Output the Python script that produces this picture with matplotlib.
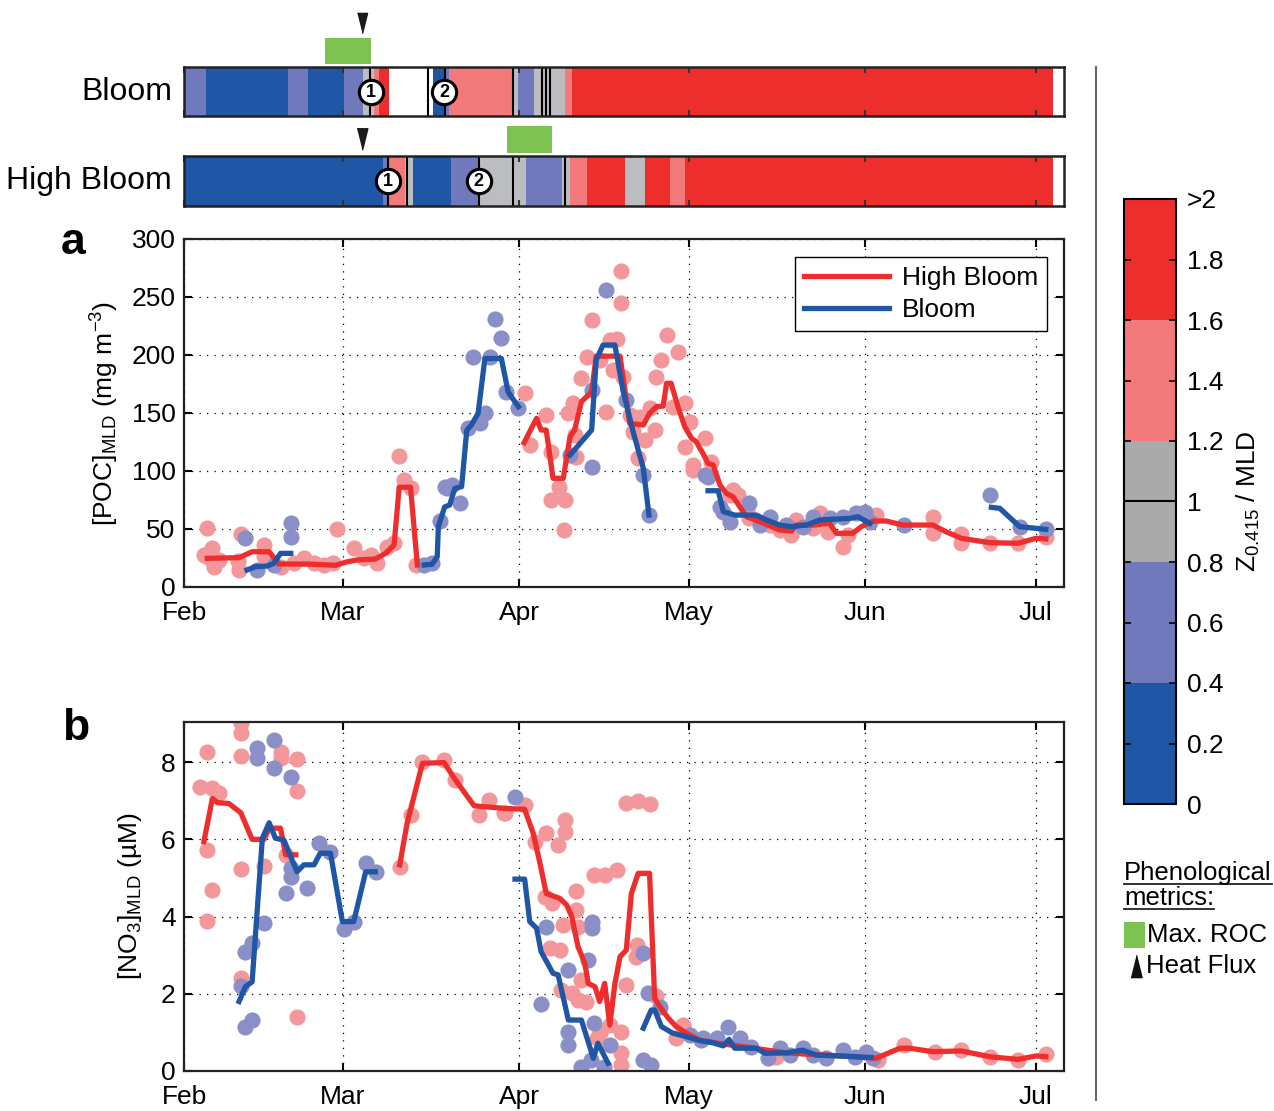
import numpy as np
import matplotlib
matplotlib.use('Agg')
import matplotlib.pyplot as plt
from matplotlib.colors import ListedColormap, BoundaryNorm
from matplotlib.cm import ScalarMappable
from matplotlib.lines import Line2D
from matplotlib.patches import Rectangle

plt.rcParams['font.family'] = ['Liberation Sans', 'DejaVu Sans']
plt.rcParams['mathtext.fontset'] = 'custom'
plt.rcParams['mathtext.rm'] = 'Liberation Sans'
plt.rcParams['mathtext.it'] = 'Liberation Sans:italic'
plt.rcParams['mathtext.default'] = 'regular'

# time axis = days since 1 Feb
month_ticks = [0, 28, 59, 89, 120, 150]
month_labels = ['Feb', 'Mar', 'Apr', 'May', 'Jun', 'Jul']

# --- phenology strips (class: 0 <0.4, 1 <0.8, 2 <1.2, 3 <1.6, 4 >1.6, -1 no data)
bloom_edges = [0, 3.8, 18.4, 21.9, 28.1, 31.5, 33.4, 34.3, 36.1, 43.9, 45.9, 46.7,
               57.9, 58.8, 61.6, 67.1, 68.4, 153]
bloom_cls = [1, 0, 1, 0, 1, 2, 3, 4, -1, 0, 1, 3, 2, 1, 2, 3, 4]
bloom_breaks = [32.8, 43.0, 45.9, 57.9, 63.1, 63.8, 64.5]
bloom_marks = [32.9, 45.8]
bloom_roc = [24.9, 33.0]
bloom_heat = 31.4

high_edges = [0, 35.1, 36.0, 38.9, 40.4, 47.1, 51.9, 60.3, 66.6, 68.0, 71.0, 77.6,
              81.2, 85.6, 88.2, 153]
high_cls = [0, 1, 3, 2, 0, 1, 2, 1, 2, 3, 4, 2, 4, 3, 4]
high_breaks = [36.0, 39.2, 51.9, 57.9, 67.1]
high_marks = [35.9, 51.9]
high_roc = [56.9, 64.9]
high_heat = 31.4

# --- POC (panel a)
poc_high_t = [4.1, 9.7, 12.0, 15.0, 16.7, 21.7, 26.7, 28.8, 30.5, 33.7, 35.5, 37.0, 37.9, 39.9, 41.1, np.nan,
              59.9, 62.1, 62.9, 63.8, 65.0, 66.8, 68.0, 68.8, 70.0, 71.8, 72.6, 76.8, 78.5, 80.9, 82.0, 83.2,
              84.4, 85.0, 85.8, 87.0, 88.2, 89.4, 90.2, 91.4, 92.3, 93.2, 94.4, 95.5, 96.7, 99.1, 101.4, 104.9,
              107.0, 107.8, 110.8, 113.7, 114.9, 117.8, 119.3, 121.4, 123.7, 126.6, 131.9, 134.2, 136.9, 141.9,
              146.9, 150.1, 151.8]
poc_high_v = [24.7, 25.3, 30.4, 30.4, 19.8, 19.8, 18.7, 21.8, 23.3, 24.1, 29, 36.2, 86, 86, 19, np.nan,
              124.4, 145.4, 135.3, 135.3, 93.7, 93.7, 129.6, 135.3, 159.7, 168.3, 199, 199, 141, 139.6, 149.7, 155.4,
              156, 175.6, 175.6, 155.4, 138.2, 128.2, 125.3, 115.2, 106.6, 105.2, 88, 80.8, 77.8, 60.6, 56.3, 49.1,
              48.3, 53.4, 53.4, 54.9, 46.3, 46.3, 52, 56.9, 56.9, 53.4, 53.4, 47.7, 42, 38.2,
              37.7, 42, 41.4]

poc_bloom_t = [11.1, 12.6, 14.7, 15.8, 17.0, 18.8, np.nan,
               42.3, 43.7, 44.6, 44.8, 45.9, 46.8, 47.7, 48.9, 49.8, 50.6, 51.8, 53.0, 55.9, 57.1, 58.9, np.nan,
               68.0, 71.8, 72.6, 73.8, 75.9, 77.3, 79.1, 80.9, 81.9, np.nan,
               92.3, 94.1, 95.0, 97.0, 100.8, 102.6, 104.9, 107.0, 109.6, 112.0, 114.3, 117.3, 118.7, 120.8, np.nan,
               142.2, 143.7, 147.2, 151.8]
poc_bloom_v = [14.7, 17.5, 18.1, 20.4, 29, 29, np.nan,
               19, 19.6, 26, 52, 69, 70.7, 85, 86.5, 135, 139.6, 149.7, 197, 197, 168, 155.4, np.nan,
               113.8, 135.3, 195.7, 208.6, 208.6, 169.8, 134, 102.3, 62, np.nan,
               83, 83, 65, 62, 62, 57.8, 53.4, 52, 53.4, 57.8, 58.4, 59.2, 60.6, 54.9, np.nan,
               68.7, 67.8, 52, 49.7]

poc_high_obs_t = [4.0, 5.0, 4.4, 5.3, 6.2, 3.5, 10.0, 9.7, 9.5, 14.1, 14.1, 17.0, 19.4, 21.1, 22.9, 24.6, 26.3,
                  27.0, 29.9, 31.7, 32.9, 34.0, 35.8, 37.0, 37.9, 38.7, 39.9, 40.8,
                  60.0, 60.9, 63.8, 64.7, 66.0, 64.7, 67.1, 66.9, 67.7, 68.6, 68.9, 69.1, 70.0, 70.9, 71.9, 73.2,
                  74.4, 75.0, 76.2, 76.9, 76.9, 75.6, 77.3, 78.5, 79.1, 80.3, 81.2, 80.0, 83.0, 82.0, 83.2, 84.0,
                  85.0, 87.0, 86.1, 88.2, 89.1, 88.2, 89.7, 91.7, 92.9, 96.7, 97.5, 99.1, 89.7, 96.1, 99.6, 103.2,
                  104.9, 107.0, 107.8, 112.0, 110.8, 113.5, 116.1, 117.0, 121.9, 131.9, 131.9, 136.9, 136.9, 141.9,
                  146.9, 151.8]
poc_high_obs_v = [51, 34, 25, 17.5, 23, 28, 46, 14.7, 22, 36, 26.7, 17.5, 20.4, 24.7, 20.4, 19, 21,
                  50, 33.3, 24.7, 27.6, 20.4, 34.7, 37.7, 113, 92.2, 85, 19,
                  167.5, 122.4, 148.3, 116.6, 86.5, 75, 75, 49, 149.7, 158.4, 131, 112.3, 180, 198.5, 230, 195.7,
                  151, 213, 213.5, 244.5, 272.7, 187, 181, 148, 134, 146.8, 126.7, 111, 135.3, 154, 181, 195.7,
                  217, 203, 155.4, 158.4, 142.5, 121, 105.2, 128.2, 108, 83.6, 79.3, 66.4, 100.9, 79.3, 59.2, 53.4,
                  49.1, 44.8, 57.8, 63.5, 50.6, 47.7, 34.7, 44.8, 62, 60.6, 46.3, 45.7, 37.7, 37.7,
                  37.7, 43.4]

poc_bloom_obs_t = [10.8, 12.9, 15.8, 18.9, 18.9,
                   42.3, 43.7, 45.1, 46.4, 47.2, 48.7, 45.9, 50.1, 52.1, 53.0, 50.9, 53.9, 54.8, 55.9, 56.8, 58.9,
                   68.0, 71.8, 71.9, 74.4, 77.9, 80.9, 81.9,
                   91.7, 92.3, 94.4, 95.0, 96.1, 99.6, 101.4, 103.2, 106.1, 109.0, 110.8, 113.7, 116.1, 118.4,
                   119.9, 120.8, 126.9, 141.9, 147.2, 151.8]
poc_bloom_obs_v = [42, 14.7, 19, 55, 42.8,
                   19, 20.4, 57, 85, 88, 72, 86.5, 136.8, 141, 149.7, 198.5, 198.5, 231, 214.4, 168.3, 154,
                   113.8, 169.8, 103.7, 256, 161.2, 96.5, 62,
                   96.5, 95, 69.2, 65, 56.3, 72, 53.4, 60.6, 53.4, 52, 60.6, 59.2, 60.6, 63.5,
                   65, 56.3, 53.4, 79.3, 52, 49.7]

# --- NO3 (panel b)
no3_high_t = [3.5, 5.0, 5.9, 7.9, 10.0, 12.0, 14.1, 15.0, 17.0, 17.9, 19.7, np.nan,
              38.0, 39.3, 42.0, 45.8, 47.8, 51.1, 56.6, 60.0, 61.5, 62.7, 63.8, 66.2, 67.4, 68.3, 69.4, 70.6,
              71.2, 72.4, 73.2, 74.1, 75.0, 75.9, 76.8, 77.9, 78.8, 80.0, 82.0, 82.9, 83.8, 85.3, 86.7, 88.5,
              90.8, 94.0, 100.0, 106.0, 112.0, 118.0, 121.9, 126.1, 127.8, 131.9, 136.9, 141.9, 146.9, 150.1, 151.8]
no3_high_v = [5.94, 7.06, 6.95, 6.93, 6.69, 6.0, 6.0, 6.29, 6.29, 5.6, 5.6, np.nan,
              5.34, 6.42, 7.97, 7.99, 7.54, 6.87, 6.80, 6.78, 6.16, 5.38, 4.60, 4.47, 4.30, 4.0, 3.22, 2.79,
              2.27, 2.18, 1.80, 2.27, 1.19, 2.27, 2.96, 3.13, 4.60, 5.12, 5.12, 1.88, 1.67, 1.37, 1.15, 0.98,
              0.80, 0.72, 0.60, 0.47, 0.42, 0.37, 0.33, 0.59, 0.59, 0.50, 0.52, 0.37, 0.30, 0.39, 0.37]

no3_bloom_t = [9.7, 10.8, 12.0, 13.8, 15.0, 16.1, 17.6, 19.9, 21.1, 22.9, 24.0, 25.8, 27.9, 29.9, 32.0, 33.7, np.nan,
               58.3, 60.0, 60.9, 62.1, 62.9, 65.0, 65.9, 67.7, 70.0, 72.1, 72.9, 74.7, np.nan,
               80.9, 82.3, 82.9, 84.1, 86.1, 88.5, 90.8, 93.2, 95.0, 96.0, 97.0, 100.8, 102.3, 106.1, 109.0,
               111.4, 115.5, 121.0]
no3_bloom_v = [1.80, 2.18, 2.31, 6.03, 6.43, 6.03, 5.98, 5.16, 5.34, 5.34, 5.64, 5.64, 3.87, 3.87, 5.16, 5.16, np.nan,
               4.97, 4.97, 3.87, 3.70, 3.09, 2.53, 2.49, 1.32, 1.32, 0.33, 0.72, 0.20, np.nan,
               1.11, 1.58, 1.58, 1.15, 0.98, 0.89, 0.79, 0.73, 0.65, 0.82, 0.59, 0.59, 0.46, 0.47, 0.54,
               0.41, 0.39, 0.35]

no3_high_obs_t = [4.0, 2.9, 5.0, 6.2, 4.0, 5.0, 4.0, 10.0, 10.0, 10.0, 10.0, 10.0, 14.1, 17.0, 17.0, 19.9, 19.9,
                  17.9, 19.9, 38.0, 39.9, 42.0, 45.8, 47.8, 52.0, 53.8, 56.6, 56.3, 60.0, 63.8, 61.8, 65.9, 67.1,
                  67.1, 77.9, 80.0, 82.0, 72.3, 74.1, 76.2, 69.1, 63.6, 64.8, 69.1, 66.8, 69.4, 64.4, 66.2, 79.8,
                  79.6, 69.9, 66.4, 68.3, 69.4, 70.8, 77.9, 83.2, 73.2, 75.0, 77.0, 72.7, 77.0, 77.0, 87.9, 86.7,
                  87.9, 104.3, 122.2, 126.9, 132.2, 136.9, 141.9, 146.9, 151.8]
no3_high_obs_v = [8.27, 7.35, 7.32, 7.19, 5.73, 4.69, 3.89, 9.02, 8.75, 8.16, 5.23, 2.40, 5.31, 8.27, 8.10, 8.08, 7.24,
                  5.60, 1.41, 5.29, 6.63, 8.01, 8.06, 7.54, 6.63, 7.02, 6.68, 6.68, 6.89, 6.16, 5.94, 5.85, 6.50,
                  6.20, 6.95, 7.00, 6.92, 5.08, 5.08, 5.21, 4.67, 4.52, 4.34, 4.17, 3.78, 3.74, 3.18, 3.13, 3.26,
                  2.96, 2.36, 2.10, 2.01, 1.84, 1.80, 2.23, 1.93, 0.98, 1.19, 1.02, 0.85, 0.46, 0.16, 1.19, 0.85,
                  1.15, 0.35, 0.28, 0.67, 0.50, 0.54, 0.37, 0.28, 0.44]

no3_bloom_obs_t = [12.9, 12.9, 15.8, 15.8, 18.9, 18.8, 18.8, 17.9, 21.7, 23.8, 25.8, 28.1, 30.0, 32.0, 33.9, 14.1,
                   12.0, 10.8, 10.0, 10.8, 12.0, 58.3, 63.8, 62.9, 67.6, 71.2, 71.9, 71.9, 67.6, 67.6, 72.3, 69.9,
                   71.6, 73.9, 75.0, 80.9, 81.8, 83.8, 80.9, 82.3, 89.1, 91.4, 93.8, 91.1, 95.8, 97.9, 99.9, 102.9,
                   104.9, 106.7, 109.0, 110.8, 113.1, 116.1, 118.1, 120.2, 121.4]
no3_bloom_obs_v = [8.36, 8.10, 8.58, 7.84, 7.61, 5.25, 5.03, 4.62, 4.73, 5.90, 5.66, 3.67, 3.87, 5.38, 5.16, 3.84,
                   3.31, 3.07, 2.20, 1.15, 1.32, 7.09, 3.74, 1.74, 2.62, 2.88, 3.87, 3.70, 1.02, 0.67, 1.24, 0.11,
                   0.28, 0.10, 0.67, 3.05, 2.01, 1.67, 0.28, 0.16, 0.93, 0.85, 0.85, 0.80, 1.15, 0.85, 0.63, 0.33,
                   0.59, 0.41, 0.59, 0.41, 0.33, 0.54, 0.37, 0.50, 0.33]

cb_bounds = [0, 0.4, 0.8, 1.2, 1.6, 2.0]
cb_ticks = [0, 0.2, 0.4, 0.6, 0.8, 1.0, 1.2, 1.4, 1.6, 1.8, 2.0]
cb_labels = ['0', '0.2', '0.4', '0.6', '0.8', '1', '1.2', '1.4', '1.6', '1.8', '>2']

# colours
class_colors = ['#1f56a5', '#6f79bb', '#bcbdc1', '#f27a7a', '#ee2e2d']
cbar_colors = ['#1f56a5', '#6f79bb', '#a9aaa9', '#f27a7a', '#ee2e2d']
red = '#ee2e2d'
blue = '#1f56a5'
pink_dot = '#f4979a'
lav_dot = '#8a90c7'
green = '#7dc352'

FS = 19  # base font size

W, H = 1274, 1111
fig = plt.figure(figsize=(W / 100, H / 100), dpi=100)


def ax_px(l, t, r, b):
    return fig.add_axes([l / W, 1 - b / H, (r - l) / W, (b - t) / H])


heat_marker_down = [(-1, 2), (1, 2), (0, -2)]
heat_marker_up = [(-1, -2), (1, -2), (0, 2)]

# ---------- strips
strips = [
    (ax_px(184, 67, 1064, 116), 'Bloom', bloom_edges, bloom_cls, bloom_breaks, bloom_marks, bloom_roc,
     (1.06, 1.59), bloom_heat, 1.9, 14.5),
    (ax_px(184, 156, 1064, 206), 'High Bloom', high_edges, high_cls, high_breaks, high_marks, high_roc,
     (1.06, 1.60), high_heat, 1.34, 15.5),
]
for ax, name, edges, cls, breaks, marks, roc, roc_y, heat, heat_y, heat_ms in strips:
    ax.set_xlim(0, 155)
    ax.set_ylim(0, 1)
    for a, b, c in zip(edges[:-1], edges[1:], cls):
        if c >= 0:
            ax.axvspan(a, b, color=class_colors[c], lw=0)
    for t in breaks:
        ax.axvline(t, color='k', lw=1.5)
    for i, t in enumerate(marks):
        ax.plot(t, 0.5, 'o', ms=17.5, mfc='white', mec='k', mew=2.2, zorder=5)
        ax.text(t, 0.48, str(i + 1), ha='center', va='center', fontsize=13, fontweight='bold', zorder=6)
    ax.add_patch(Rectangle((roc[0], roc_y[0]), roc[1] - roc[0], roc_y[1] - roc_y[0],
                           color=green, lw=0, clip_on=False))
    ax.plot(heat, heat_y, marker=heat_marker_down, ms=heat_ms, color='#1a1a1a', lw=0, clip_on=False)
    ax.set_xticks(month_ticks)
    ax.set_xticklabels([])
    ax.set_yticks([])
    ax.tick_params(axis='x', direction='in', top=True, bottom=True, length=4, width=1.5, color='#333')
    for s in ax.spines.values():
        s.set_linewidth(1.8)
        s.set_color('#222')
    ax.text(-0.0135, 0.5, name, transform=ax.transAxes, ha='right', va='center', fontsize=23)

# ---------- panels
axa = ax_px(184, 239, 1064, 587)
axb = ax_px(184, 722, 1064, 1071)

axa.scatter(poc_high_obs_t, poc_high_obs_v, s=135, color=pink_dot, lw=0, zorder=2)
axa.scatter(poc_bloom_obs_t, poc_bloom_obs_v, s=135, color=lav_dot, lw=0, zorder=2)
axa.plot(poc_high_t, poc_high_v, color=red, lw=3.8, zorder=3, label='High Bloom')
axa.plot(poc_bloom_t, poc_bloom_v, color=blue, lw=3.8, zorder=4, label='Bloom')
axa.set_ylim(0, 300)
axa.set_yticks(np.arange(0, 301, 50))
axa.set_ylabel('[POC]$_{MLD}$ (mg m$^{-3}$)', fontsize=FS, labelpad=8)
leg = axa.legend(loc='upper right', bbox_to_anchor=(0.981, 0.948), fontsize=FS, frameon=True,
                 fancybox=False, edgecolor='k', framealpha=1, handlelength=3.2, borderaxespad=0,
                 borderpad=0.35, labelspacing=0.3, handletextpad=0.5)
leg.get_frame().set_linewidth(1.0)

axb.scatter(no3_high_obs_t, no3_high_obs_v, s=135, color=pink_dot, lw=0, zorder=2)
axb.scatter(no3_bloom_obs_t, no3_bloom_obs_v, s=135, color=lav_dot, lw=0, zorder=2)
axb.plot(no3_high_t, no3_high_v, color=red, lw=3.8, zorder=3)
axb.plot(no3_bloom_t, no3_bloom_v, color=blue, lw=3.8, zorder=4)
axb.set_ylim(0, 9.04)
axb.set_yticks([0, 2, 4, 6, 8])
axb.set_ylabel('[NO$_3$]$_{MLD}$ (µM)', fontsize=FS, labelpad=12)

for ax in (axa, axb):
    ax.set_xlim(0, 155)
    ax.set_xticks(month_ticks)
    ax.set_xticklabels(month_labels)
    ax.grid(True, linestyle=(0, (1, 5)), color='k', lw=0.9)
    ax.set_axisbelow(True)
    ax.tick_params(direction='in', top=True, right=True, length=6, width=1.5, labelsize=FS)
    ax.tick_params(axis='x', pad=10)
    ax.tick_params(axis='y', pad=6)
    for s in ax.spines.values():
        s.set_linewidth(1.6)
        s.set_color('#222')

fig.text(73 / W, 1 - 243 / H, 'a', fontsize=32, fontweight='bold', ha='center', va='center')
fig.text(76 / W, 1 - 729 / H, 'b', fontsize=32, fontweight='bold', ha='center', va='center')

# ---------- colorbar
cax = ax_px(1124, 199, 1176, 804)
cmap = ListedColormap(cbar_colors)
norm = BoundaryNorm(cb_bounds, cmap.N)
cb = fig.colorbar(ScalarMappable(norm=norm, cmap=cmap), cax=cax, ticks=cb_ticks)
cb.ax.set_yticklabels(cb_labels)
cb.ax.tick_params(direction='in', left=True, right=True, length=5, width=1.2, labelsize=FS, pad=8)
cb.outline.set_linewidth(1.5)
cax.axhline(1.0, color='k', lw=1.5)
cb.set_label('Z$_{0.415}$ / MLD', fontsize=FS, labelpad=8)

# ---------- separator + phenology legend
fig.add_artist(Line2D([1096 / W, 1096 / W], [1 - 67 / H, 1 - 1100 / H], color='#666', lw=1.5))

t1 = fig.text(1124 / W, 1 - 880 / H, 'Phenological', fontsize=18.5, ha='left', va='baseline')
t2 = fig.text(1124 / W, 1 - 905 / H, 'metrics:', fontsize=18.5, ha='left', va='baseline')
fig.canvas.draw()
for txt, y in ((t1, 884), (t2, 909)):
    bb = txt.get_window_extent().transformed(fig.transFigure.inverted())
    fig.add_artist(Line2D([bb.x0, bb.x1], [1 - y / H, 1 - y / H], color='#222', lw=1.3))

fig.add_artist(Rectangle((1124 / W, 1 - 948 / H), 21 / W, 26 / H, color=green, lw=0,
                         transform=fig.transFigure))
fig.text(1147 / W, 1 - 935 / H, 'Max. ROC', fontsize=18.5, ha='left', va='center')
fig.add_artist(Line2D([1136 / W], [1 - 966 / H], marker=heat_marker_up, ms=16, color='#111', lw=0))
fig.text(1146 / W, 1 - 966 / H, 'Heat Flux', fontsize=18.5, ha='left', va='center')

fig.savefig('out.png', dpi=100)
